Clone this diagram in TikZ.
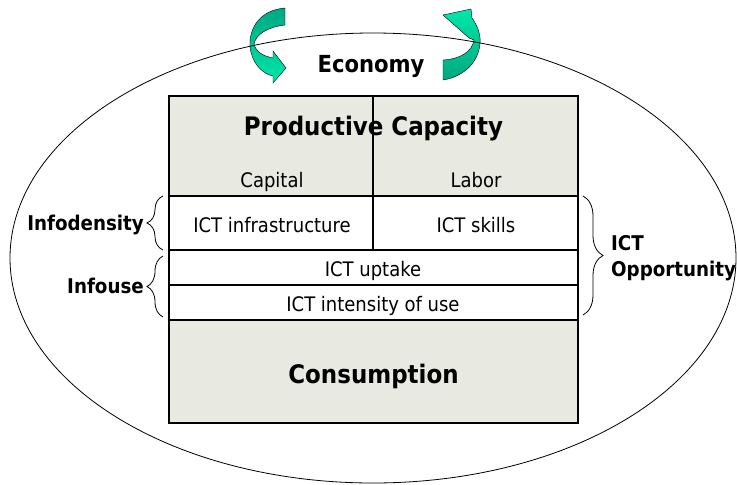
\documentclass[tikz,border=0pt]{standalone}
\usepackage{fontspec}
\setmainfont{DejaVu Sans Condensed}
\usetikzlibrary{decorations.pathreplacing}
\definecolor{cellgray}{RGB}{232,234,226}
\definecolor{arrowdark}{RGB}{0,168,128}
\definecolor{arrowlight}{RGB}{0,232,170}

\begin{document}
\begin{tikzpicture}[x=1pt,y=-1pt,
    txt/.style={font=\fontsize{20}{23}\selectfont,inner sep=0pt,anchor=base},
    big/.style={font=\bfseries\fontsize{25.5}{29}\selectfont,inner sep=0pt,anchor=base},
    side/.style={font=\bfseries\fontsize{20.3}{23}\selectfont,inner sep=0pt},
    brc/.style={decorate,decoration={brace,amplitude=#1},line width=0.8pt},
    turn/.style={draw=black,line width=0.4pt}]
  \useasboundingbox (0,0) rectangle (737,485);

  % the two turning arrows
  \draw[turn,top color=arrowdark,bottom color=arrowlight]
    (285,8) -- (285,25) .. controls (268,27) and (256,34) .. (254,44)
    .. controls (256,52) and (263,56) .. (273,58) -- (273,51) -- (286,68)
    -- (273,83) -- (273,76) .. controls (262,74) and (251,62) .. (250,46)
    .. controls (249,28) and (260,10) .. (285,8) -- cycle;
  \draw[turn,top color=arrowlight,bottom color=arrowdark]
    (443,60) .. controls (460,59) and (472,52) .. (474,40) -- (469,38)
    -- (443,15) -- (471,9) -- (472,18) .. controls (478,26) and (481,36) .. (480,44)
    .. controls (478,64) and (462,77) .. (443,80) -- cycle;

  % economy
  \draw[line width=0.8pt] (373,258) ellipse [x radius=363, y radius=225];
  \node[big,font=\bfseries\fontsize{23.5}{27}\selectfont] (eco) at (371,72) {Economy};

  % table
  \fill[cellgray] (169,96) rectangle (578,196);
  \fill[cellgray] (169,320) rectangle (578,423);
  \node[big] (prod) at (373.5,135) {Productive Capacity};
  \node[txt] (cap) at (272,187) {Capital};
  \node[txt] (lab) at (476,187) {Labor};
  \node[txt] (infra) at (272,232) {ICT infrastructure};
  \node[txt] (skill) at (476,232) {ICT skills};
  \node[txt] (upt) at (373,276) {ICT uptake};
  \node[txt] (inten) at (373,311) {ICT intensity of use};
  \node[big] (cons) at (373.5,383) {Consumption};
  \foreach \y in {196,250,285,320}
    \draw[line width=1.5pt] (169,\y) -- (578,\y);
  \draw[line width=1.2pt] (373,96) -- (373,250);
  \draw[line width=2.5pt] (169,96) rectangle (578,423);

  % indices
  \draw[brc=16pt] (163,250) -- (163,196);
  \draw[brc=16pt] (163,317) -- (163,256);
  \draw[brc=20pt] (583,196) -- (583,315);
  \node[side,anchor=base east] (dens) at (144,230) {Infodensity};
  \node[side,anchor=base east] (use) at (144,293) {Infouse};
  \node[side,anchor=base west] (ict) at (611,250) {ICT};
  \node[side,anchor=base west] (opp) at (611,276) {Opportunity};
\end{tikzpicture}
\end{document}
